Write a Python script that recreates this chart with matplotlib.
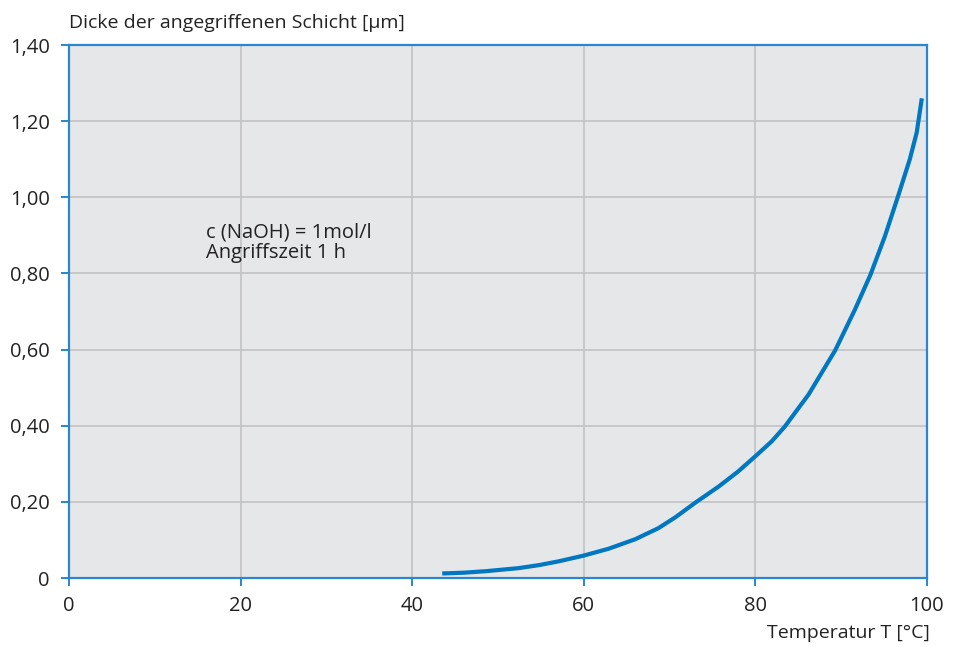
import matplotlib
matplotlib.use('Agg')
import matplotlib.pyplot as plt
from matplotlib.ticker import FuncFormatter

# Temperatur [°C] und Schichtdicke [µm]
temperatur = [43.5, 46.0, 48.6, 52.4, 54.8, 57.1, 60.0, 62.9, 66.0, 68.7, 70.7, 73.0, 75.7,
              78.0, 80.2, 81.9, 83.4, 86.2, 89.3, 91.6, 93.4, 95.1, 96.6, 98.0, 98.8, 99.4]
dicke = [0.012, 0.014, 0.018, 0.026, 0.034, 0.044, 0.059, 0.077, 0.102, 0.131, 0.160, 0.198, 0.240,
         0.280, 0.324, 0.359, 0.397, 0.482, 0.598, 0.705, 0.796, 0.898, 1.001, 1.100, 1.170, 1.260]
x_ticks = [0, 20, 40, 60, 80, 100]
y_ticks = [0, 0.2, 0.4, 0.6, 0.8, 1.0, 1.2, 1.4]

blau = '#0077c1'
rahmen = '#2a86cf'
plt.rcParams['font.family'] = ['Open Sans', 'DejaVu Sans']

fig = plt.figure(figsize=(9.63, 6.47), dpi=100)
ax = fig.add_axes([0.0717, 0.1066, 0.8909, 0.8238])
ax.set_facecolor('#e6e7e9')

ax.plot(temperatur, dicke, color=blau, linewidth=3.0, solid_capstyle='butt', solid_joinstyle='round')

ax.set_xlim(0, 100)
ax.set_ylim(0, 1.4)
ax.set_xticks(x_ticks)
ax.set_yticks(y_ticks)
ax.yaxis.set_major_formatter(FuncFormatter(lambda v, p: '0' if v == 0 else f'{v:.2f}'.replace('.', ',')))
ax.grid(True, color='#c2c2c4', linewidth=1.2)
ax.set_axisbelow(True)
for s in ax.spines.values():
    s.set_color(rahmen)
    s.set_linewidth(1.6)
ax.tick_params(colors=rahmen, labelcolor='#222222', labelsize=14.5, length=6, width=1.4)
ax.tick_params(axis='x', pad=7)
ax.tick_params(axis='y', pad=8)

ax.text(16.0, 0.935, 'c (NaOH) = 1mol/l\nAngriffszeit 1 h', fontsize=14.5,
        color='#222222', va='top', ha='left', linespacing=1.05)

fig.text(0.0717, 0.965, 'Dicke der angegriffenen Schicht [µm]', fontsize=14,
         color='#222222', ha='left', va='center')
fig.text(0.966, 0.022, 'Temperatur T [°C]', fontsize=14,
         color='#222222', ha='right', va='center')

fig.savefig('out.png', dpi=100, facecolor='white')
